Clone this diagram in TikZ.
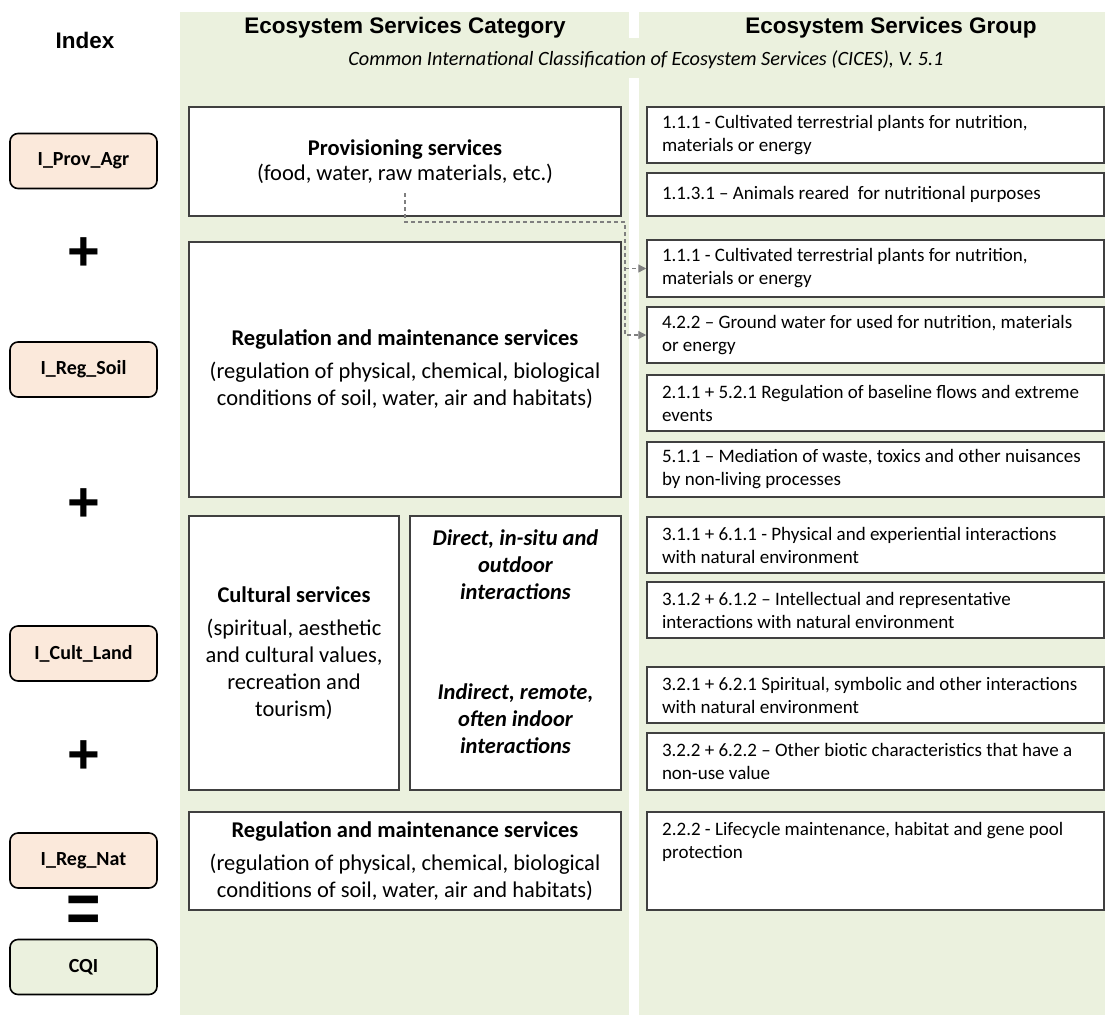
\documentclass[tikz,border=0pt]{standalone}
\usepackage{fontspec}
\setmainfont{Carlito}
\newfontfamily\headfont{Liberation Sans}
\usetikzlibrary{arrows.meta}
\definecolor{panelgreen}{HTML}{EBF1DE}
\definecolor{peach}{HTML}{FBE9DB}
\definecolor{boxline}{HTML}{404040}
\definecolor{dashgray}{HTML}{7F7F7F}
\begin{document}
\begin{tikzpicture}[x=1pt,y=-1pt,
  panel/.style={fill=panelgreen,draw=none},
  idxbox/.style={draw=black,line width=1.6pt,rounded corners=8pt,fill=peach,
    minimum width=147pt,minimum height=55pt,inner sep=0pt,
    font=\fontsize{20}{24}\selectfont\bfseries},
  catbox/.style={draw=boxline,line width=1.5pt,fill=white,inner sep=0pt,
    align=center,font=\fontsize{22.5}{27}\selectfont},
  grpbox/.style={draw=boxline,line width=1.5pt,fill=white,inner sep=0pt,
    minimum width=457pt,text width=427pt,align=flush left,
    font=\fontsize{19}{23}\selectfont},
  heading/.style={font=\headfont\bfseries\fontsize{22.5}{26}\selectfont,inner sep=0pt},
  opsign/.style={font=\headfont\bfseries\fontsize{56}{60}\selectfont,inner sep=0pt},
  itbox/.style={align=center,inner sep=0pt,font=\fontsize{22.5}{27}\selectfont\bfseries\itshape},
  conn/.style={draw=dashgray,line width=1.3pt,dash pattern=on 4pt off 3pt,
    -{Triangle[length=8pt,width=8pt,fill=dashgray]}}
]
\useasboundingbox (0,0) rectangle (1105,1015);
% panels
\fill[panel] (180,12) rectangle (629,1015);
\fill[panel] (639,12) rectangle (1105,1015);
\fill[panel] (629,38) rectangle (639,78);

% headings
\node[heading] (hidx) at (85,40) {Index};
\node[heading] (hcat) at (405,28) {Ecosystem Services Category};
\node[heading] (hgrp) at (891,28) {Ecosystem Services Group};
\node[inner sep=0pt,font=\fontsize{20.3}{24}\selectfont\itshape] (hsub) at (646,60)
  {Common International Classification of Ecosystem Services (CICES), V. 5.1};

% index column
\node[idxbox] (i1) at (83.5,161) {I\_Prov\_Agr};
\node[opsign] (p1) at (83.5,254) {+};
\node[idxbox] (i2) at (83.5,369.5) {I\_Reg\_Soil};
\node[opsign] (p2) at (83.5,505) {+};
\node[idxbox] (i3) at (83.5,653.5) {I\_Cult\_Land};
\node[opsign] (p3) at (83.5,757) {+};
\node[idxbox] (i4) at (83.5,860.5) {I\_Reg\_Nat};
\node[opsign] (eq) at (83.5,914) {\scalebox{1.05}[1.25]{=}};
\node[idxbox,fill=panelgreen] (cqi) at (83.5,967) {CQI};

% category column
\node[catbox,minimum width=432pt,minimum height=109pt] (cprov) at (405,161.5)
  {\textbf{Provisioning services}\\[-2pt](food, water, raw materials, etc.)};
\node[catbox,minimum width=432pt,minimum height=255pt] (creg1) at (405,369.5)
  {\textbf{Regulation and maintenance services}\\[6pt](regulation of physical, chemical, biological\\conditions of soil, water, air and habitats)};
\node[catbox,minimum width=210pt,minimum height=274pt] (ccult) at (294,653)
  {\textbf{Cultural services}\\[6pt](spiritual, aesthetic\\and cultural values,\\recreation and\\tourism)};
\node[catbox,minimum width=211pt,minimum height=274pt] (cint) at (515.5,653) {};
\node[itbox] (tdirect) at (515.5,565) {Direct, in-situ and\\outdoor\\interactions};
\node[itbox] (tindirect) at (515.5,719) {Indirect, remote,\\often indoor\\interactions};
\node[catbox,minimum width=432pt,minimum height=98pt] (creg2) at (405,861)
  {\textbf{Regulation and maintenance services}\\[6pt](regulation of physical, chemical, biological\\conditions of soil, water, air and habitats)};

% group column
\node[grpbox,minimum height=56pt] (g1) at (875.5,135)
  {1.1.1 - Cultivated terrestrial plants for nutrition,\\materials or energy};
\node[grpbox,minimum height=43pt] (g2) at (875.5,194.5)
  {1.1.3.1 – Animals reared\ \ for nutritional purposes};
\node[grpbox,minimum height=57pt] (g3) at (875.5,268.5)
  {1.1.1 - Cultivated terrestrial plants for nutrition,\\materials or energy};
\node[grpbox,minimum height=56pt] (g4) at (875.5,335)
  {4.2.2 – Ground water for used for nutrition, materials\\or energy};
\node[grpbox,minimum height=56pt] (g5) at (875.5,403)
  {2.1.1 + 5.2.1 Regulation of baseline flows and extreme\\events};
\node[grpbox,minimum height=55pt] (g6) at (875.5,469.5)
  {5.1.1 – Mediation of waste, toxics and other nuisances\\by non-living processes};
\node[grpbox,minimum height=56pt] (g7) at (875.5,545)
  {3.1.1 + 6.1.1 - Physical and experiential interactions\\with natural environment};
\node[grpbox,minimum height=56pt] (g8) at (875.5,610)
  {3.1.2 + 6.1.2 – Intellectual and representative\\interactions with natural environment};
\node[grpbox,minimum height=56pt] (g9) at (875.5,695)
  {3.2.1 + 6.2.1 Spiritual, symbolic and other interactions\\with natural environment};
\node[grpbox,minimum height=57pt] (g10) at (875.5,761.5)
  {3.2.2 + 6.2.2 – Other biotic characteristics that have a\\non-use value};
\node[grpbox,minimum height=98pt] (g11) at (875.5,861) {};
\node[anchor=north west,inner sep=0pt,text width=427pt,align=flush left,
  font=\fontsize{19}{23}\selectfont] (t11) at (662,822)
  {2.2.2 - Lifecycle maintenance, habitat and gene pool\\protection};

% dashed connectors
\coordinate (d0) at (405,193);
\coordinate (d1) at (625,222);
\coordinate (d2) at (d1 |- g3.west);
\draw[conn] (d0) |- (d1) |- (g4.west);
\draw[conn] (d2) -- (g3.west);
\end{tikzpicture}
\end{document}
